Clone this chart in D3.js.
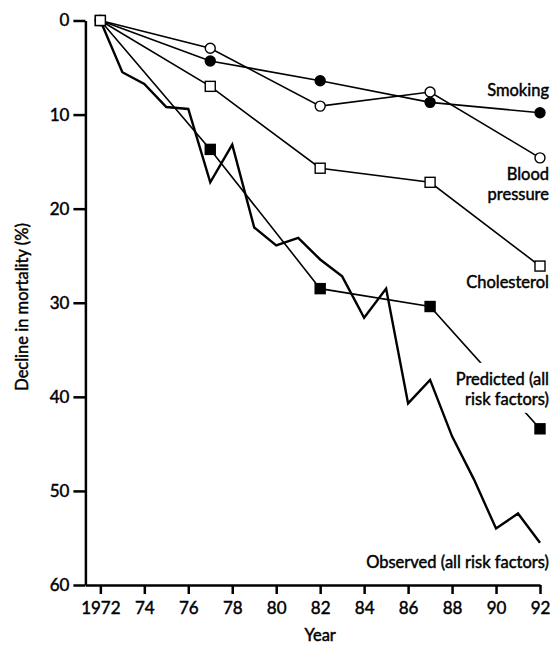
<!DOCTYPE html>
<html>
<head>
<meta charset="utf-8">
<script src="https://cdn.jsdelivr.net/npm/d3@7"></script>
<style>
  body { margin: 0; background: #fff; }
  text { font-family: Lato, "Open Sans", sans-serif; fill: #000; stroke: #000; stroke-width: 0.45px; }
</style>
</head>
<body>
<div id="chart"></div>
<script>
// data: decline in mortality (%) by year
var markYears = [1972, 1977, 1982, 1987, 1992];
var smoking = [0, 4.3, 6.4, 8.7, 9.8];
var bloodPressure = [0, 2.95, 9.1, 7.6, 14.6];
var cholesterol = [0, 7.0, 15.7, 17.2, 26.1];
var predicted = [0, 13.7, 28.5, 30.4, 43.4];

var observedYears = [1972, 1973, 1974, 1975, 1976, 1977, 1978, 1979, 1980, 1981, 1982,
                     1983, 1984, 1985, 1986, 1987, 1988, 1989, 1990, 1991, 1992];
var observed = [0, 5.5, 6.75, 9.2, 9.4, 17.2, 13.2, 22.0, 23.9, 23.1, 25.4,
                27.2, 31.6, 28.5, 40.7, 38.2, 44.2, 48.8, 54.0, 52.4, 55.5];

var xTicks = [1972, 1974, 1976, 1978, 1980, 1982, 1984, 1986, 1988, 1990, 1992];
var xTickLabels = ["1972", "74", "76", "78", "80", "82", "84", "86", "88", "90", "92"];
var yTicks = [0, 10, 20, 30, 40, 50, 60];

var width = 553, height = 645;

var svg = d3.select("#chart")
    .append("svg")
    .attr("width", width)
    .attr("height", height);

var x = d3.scaleLinear().domain([1971.32, 1992]).range([85.4, 540]);
var y = d3.scaleLinear().domain([0, 60]).range([20.5, 585]);

// axes
var yAxis = svg.append("g")
    .attr("transform", "translate(" + x(1971.32) + ",0)")
    .call(d3.axisLeft(y).tickValues(yTicks).tickSize(12).tickSizeOuter(0).tickPadding(4));
var xAxis = svg.append("g")
    .attr("transform", "translate(0," + y(60) + ")")
    .call(d3.axisBottom(x).tickValues(xTicks).tickSize(9).tickSizeOuter(0).tickPadding(8)
        .tickFormat(function (d, i) { return xTickLabels[i]; }));

[yAxis, xAxis].forEach(function (a) {
    a.selectAll("path, line").attr("stroke", "#000").attr("stroke-width", 2.5);
    a.selectAll("text").style("font-size", "17px").style("font-family", "Lato, sans-serif")
        .attr("fill", "#000").attr("stroke", "#000").attr("stroke-width", 0.5);
});

svg.append("text")
    .attr("transform", "translate(28," + 307 + ") rotate(-90)")
    .attr("text-anchor", "middle")
    .style("font-size", "16.5px")
    .text("Decline in mortality (%)");

svg.append("text")
    .attr("x", x(1982))
    .attr("y", 641)
    .attr("text-anchor", "middle")
    .style("font-size", "16.5px")
    .text("Year");

function series(vals, yrs) {
    return vals.map(function (v, i) { return {year: yrs[i], value: v}; });
}

var line = d3.line()
    .x(function (d) { return x(d.year); })
    .y(function (d) { return y(d.value); });

// observed line (thick)
svg.append("path")
    .datum(series(observed, observedYears))
    .attr("fill", "none")
    .attr("stroke", "#000")
    .attr("stroke-width", 2.4)
    .attr("stroke-linejoin", "miter")
    .attr("d", line);

var modelled = [
    {name: "predicted", values: predicted, shape: "square", fill: "#000"},
    {name: "smoking", values: smoking, shape: "circle", fill: "#000"},
    {name: "bp", values: bloodPressure, shape: "circle", fill: "#fff"},
    {name: "chol", values: cholesterol, shape: "square", fill: "#fff"}
];

modelled.forEach(function (s) {
    svg.append("path")
        .datum(series(s.values, markYears))
        .attr("fill", "none")
        .attr("stroke", "#000")
        .attr("stroke-width", 1.6)
        .attr("d", line);
});

// white patch behind the predicted label (the line is broken there)
svg.append("rect")
    .attr("x", 452)
    .attr("y", y(43.4) - 66)
    .attr("width", 101)
    .attr("height", 50)
    .attr("fill", "#fff");

modelled.forEach(function (s) {
    var pts = series(s.values, markYears);
    if (s.shape === "circle") {
        svg.append("g").selectAll("circle")
            .data(pts).enter().append("circle")
            .attr("cx", function (d) { return x(d.year); })
            .attr("cy", function (d) { return y(d.value); })
            .attr("r", 5)
            .attr("fill", s.fill)
            .attr("stroke", "#000")
            .attr("stroke-width", 1.4);
    } else {
        svg.append("g").selectAll("rect")
            .data(pts).enter().append("rect")
            .attr("x", function (d) { return x(d.year) - 5; })
            .attr("y", function (d) { return y(d.value) - 5; })
            .attr("width", 10)
            .attr("height", 10)
            .attr("fill", s.fill)
            .attr("stroke", "#000")
            .attr("stroke-width", 1.4);
    }
});

// labels at the right end of each line
var lx = 549;
function label(lines, y0) {
    var t = svg.append("text")
        .attr("x", lx)
        .attr("y", y0)
        .attr("text-anchor", "end")
        .style("font-size", "16.5px");
    lines.forEach(function (l, i) {
        t.append("tspan").attr("x", lx).attr("dy", i === 0 ? 0 : 20.5).text(l);
    });
}
label(["Smoking"], y(smoking[4]) - 17);
label(["Blood", "pressure"], y(bloodPressure[4]) + 22);
label(["Cholesterol"], y(cholesterol[4]) + 22);
label(["Predicted (all", "risk factors)"], y(predicted[4]) - 44);
label(["Observed (all risk factors)"], y(observed[20]) + 25);
</script>
</body>
</html>
